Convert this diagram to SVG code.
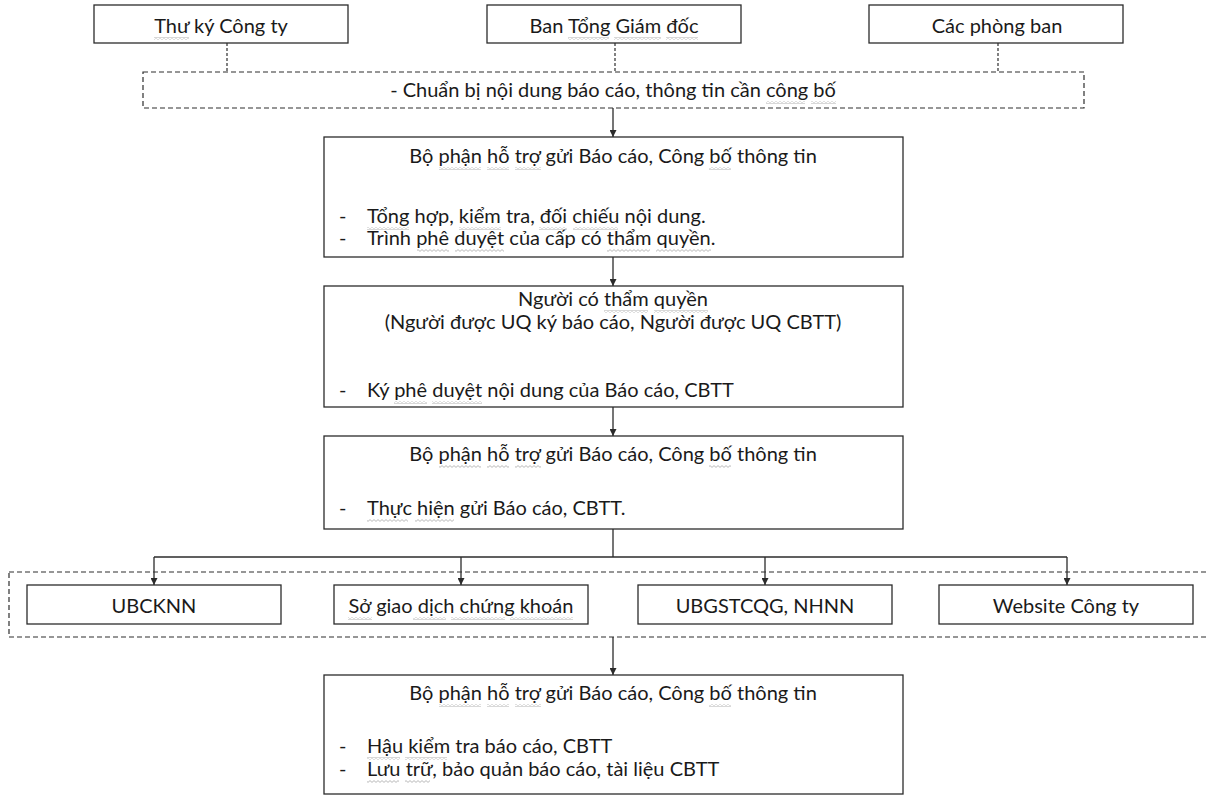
<svg xmlns="http://www.w3.org/2000/svg" width="1208" height="799" viewBox="0 0 1208 799">
<defs>
<style>
.box{fill:#fff;stroke:#2b2b2b;stroke-width:1.3}
.dbox{fill:none;stroke:#2e2e2e;stroke-width:1.2;stroke-dasharray:5 3}
.t{font-family:Lato,"Liberation Sans",sans-serif;font-size:20px;fill:#1a1a1a}
.c{text-anchor:middle}
.ln{fill:none;stroke:#2b2b2b;stroke-width:1.3}
.dl{fill:none;stroke:#2e2e2e;stroke-width:1.2;stroke-dasharray:3 2}
.sq rect{fill:url(#wv)}
</style>
<pattern id="wv" patternUnits="userSpaceOnUse" x="0" y="0" width="4" height="3">
<path d="M0,2.4 L2,0.6 L4,2.4" fill="none" stroke="#9a9a9a" stroke-width="0.7"/>
</pattern>
<marker id="ah" viewBox="0 0 10 10" refX="10" refY="5" markerWidth="7" markerHeight="7" markerUnits="userSpaceOnUse" orient="auto">
<path d="M0,0 L10,5 L0,10 z" fill="#2b2b2b"/>
</marker>
</defs>
<rect width="1208" height="799" fill="#fff"/>

<g id="connectors">
<path class="dl" d="M227,43 V72"/>
<path class="dl" d="M615,43 V72"/>
<path class="dl" d="M998,43 V72"/>
<path class="ln" d="M613,108 V137" marker-end="url(#ah)"/>
<path class="ln" d="M613,257 V286" marker-end="url(#ah)"/>
<path class="ln" d="M613,407 V436" marker-end="url(#ah)"/>
<path class="ln" d="M613,529 V557"/>
<path class="ln" d="M154,557 H1067"/>
<path class="ln" d="M154,557 V585" marker-end="url(#ah)"/>
<path class="ln" d="M461,557 V585" marker-end="url(#ah)"/>
<path class="ln" d="M765,557 V585" marker-end="url(#ah)"/>
<path class="ln" d="M1067,557 V585" marker-end="url(#ah)"/>
<path class="ln" d="M613,637 V675" marker-end="url(#ah)"/>
</g>

<g id="thu-ky">
<rect class="box" x="94" y="5" width="254" height="38"/>
<text class="t c" x="221" y="33">Thư ký Công ty</text>
</g>
<g id="ban-tgd">
<rect class="box" x="487" y="5" width="254" height="38"/>
<text class="t c" x="614" y="33">Ban Tổng Giám đốc</text>
</g>
<g id="phong-ban">
<rect class="box" x="869" y="5" width="254" height="38"/>
<text class="t c" x="997" y="33">Các phòng ban</text>
</g>

<g id="chuan-bi">
<rect class="dbox" x="143" y="72" width="941" height="36"/>
<text class="t c" x="613" y="97">- Chuẩn bị nội dung báo cáo, thông tin cần công bố</text>
</g>

<g id="bo-phan-1">
<rect class="box" x="324" y="137" width="579" height="120"/>
<text class="t c" x="613" y="163">Bộ phận hỗ trợ gửi Báo cáo, Công bố thông tin</text>
<text class="t" x="339" y="223">-</text>
<text class="t" x="367" y="223">Tổng hợp, kiểm tra, đối chiếu nội dung.</text>
<text class="t" x="339" y="245">-</text>
<text class="t" x="367" y="245">Trình phê duyệt của cấp có thẩm quyền.</text>
</g>

<g id="tham-quyen">
<rect class="box" x="324" y="286" width="579" height="121"/>
<text class="t c" x="613" y="306">Người có thẩm quyền</text>
<text class="t c" x="613" y="329">(Người được UQ ký báo cáo, Người được UQ CBTT)</text>
<text class="t" x="339" y="397">-</text>
<text class="t" x="367" y="397">Ký phê duyệt nội dung của Báo cáo, CBTT</text>
</g>

<g id="bo-phan-2">
<rect class="box" x="324" y="436" width="579" height="93"/>
<text class="t c" x="613" y="461">Bộ phận hỗ trợ gửi Báo cáo, Công bố thông tin</text>
<text class="t" x="339" y="515">-</text>
<text class="t" x="367" y="515">Thực hiện gửi Báo cáo, CBTT.</text>
</g>

<g id="recipients">
<rect class="dbox" x="9" y="572" width="1210" height="65"/>
</g>
<g id="ubcknn">
<rect class="box" x="27" y="585" width="254" height="39"/>
<text class="t c" x="154" y="613">UBCKNN</text>
</g>
<g id="sgdck">
<rect class="box" x="334" y="585" width="254" height="39"/>
<text class="t c" x="461" y="613">Sở giao dịch chứng khoán</text>
</g>
<g id="ubgstcqg">
<rect class="box" x="638" y="585" width="254" height="39"/>
<text class="t c" x="765" y="613">UBGSTCQG, NHNN</text>
</g>
<g id="website">
<rect class="box" x="939" y="585" width="254" height="39"/>
<text class="t c" x="1066" y="613">Website Công ty</text>
</g>

<g id="bo-phan-3">
<rect class="box" x="324" y="675" width="579" height="119"/>
<text class="t c" x="613" y="700">Bộ phận hỗ trợ gửi Báo cáo, Công bố thông tin</text>
<text class="t" x="339" y="753">-</text>
<text class="t" x="367" y="753">Hậu kiểm tra báo cáo, CBTT</text>
<text class="t" x="339" y="776">-</text>
<text class="t" x="367" y="776">Lưu trữ, bảo quản báo cáo, tài liệu CBTT</text>
</g>

<g id="spellcheck-marks" class="sq">
<rect x="154" y="37" width="35" height="3"/>
<rect x="568" y="37" width="41" height="3"/>
<rect x="614" y="37" width="47" height="3"/>
<rect x="666" y="37" width="32" height="3"/>
<rect x="766" y="101" width="39" height="3"/>
<rect x="811" y="101" width="25" height="3"/>
<rect x="439" y="167" width="42" height="3"/>
<rect x="487" y="167" width="22" height="3"/>
<rect x="515" y="167" width="26" height="3"/>
<rect x="709" y="167" width="22" height="3"/>
<rect x="367" y="227" width="42" height="3"/>
<rect x="459" y="227" width="42" height="3"/>
<rect x="539" y="227" width="28" height="3"/>
<rect x="573" y="227" width="45" height="3"/>
<rect x="417" y="249" width="32" height="3"/>
<rect x="455" y="249" width="49" height="3"/>
<rect x="607" y="249" width="43" height="3"/>
<rect x="656" y="249" width="55" height="3"/>
<rect x="604" y="310" width="44" height="3"/>
<rect x="654" y="310" width="54" height="3"/>
<rect x="394" y="401" width="33" height="3"/>
<rect x="432" y="401" width="50" height="3"/>
<rect x="439" y="465" width="42" height="3"/>
<rect x="487" y="465" width="22" height="3"/>
<rect x="515" y="465" width="26" height="3"/>
<rect x="709" y="465" width="22" height="3"/>
<rect x="367" y="519" width="41" height="3"/>
<rect x="415" y="519" width="39" height="3"/>
<rect x="348" y="617" width="24" height="3"/>
<rect x="413" y="617" width="33" height="3"/>
<rect x="451" y="617" width="54" height="3"/>
<rect x="510" y="617" width="63" height="3"/>
<rect x="439" y="704" width="42" height="3"/>
<rect x="487" y="704" width="22" height="3"/>
<rect x="515" y="704" width="26" height="3"/>
<rect x="709" y="704" width="22" height="3"/>
<rect x="367" y="757" width="33" height="3"/>
<rect x="405" y="757" width="42" height="3"/>
<rect x="367" y="780" width="32" height="3"/>
<rect x="405" y="780" width="25" height="3"/>
</g>
</svg>
